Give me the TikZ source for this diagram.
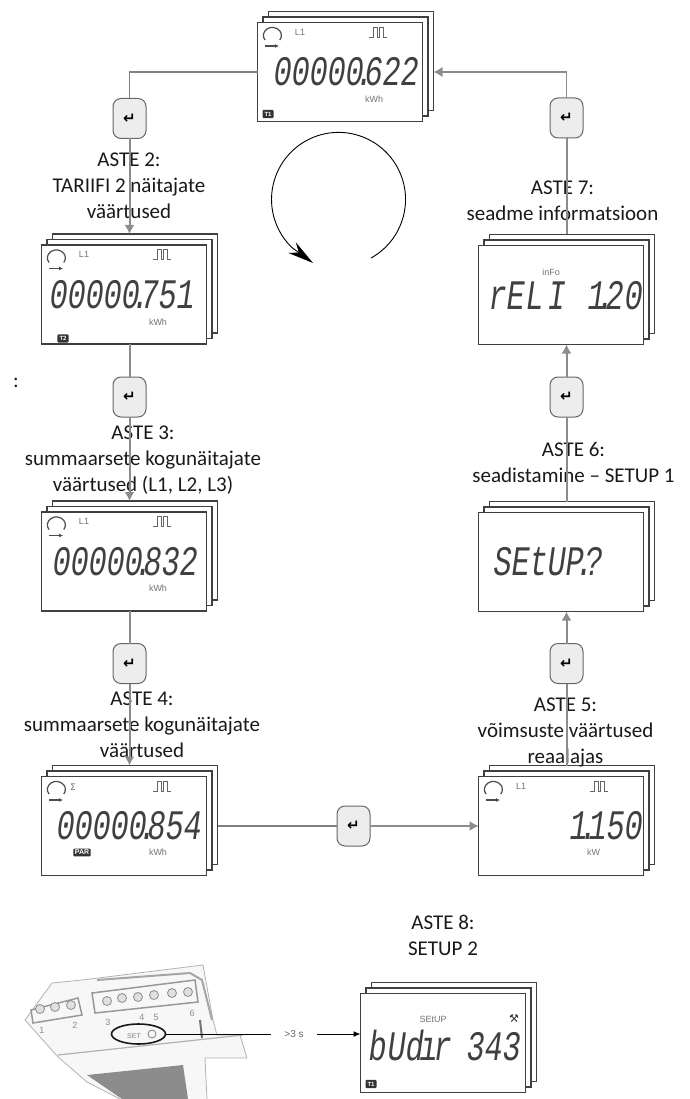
\documentclass[tikz,border=0pt]{standalone}
\usepackage{fontspec}
\setmainfont{Carlito}
\setsansfont{Liberation Sans}
\newfontfamily\lcdfont{Liberation Mono}[FakeSlant=0.14,FakeStretch=0.72]
\newfontfamily\symfont{DejaVu Sans}
\usetikzlibrary{arrows.meta,positioning,shadows,shapes.geometric}
\newcommand{\lcdpt}{\kern-.21em.\kern-.21em}
\newcommand{\lcdhead}[2]{%
  \pic at ([shift={(-68,37)}]#1.center) {cycleicon};
  \node[lcdsmall] (#1ph) at ([shift={(-40,40)}]#1.center) {#2};
  \pic at ([shift={(38,40)}]#1.center) {pulse};
}
\begin{document}
\begin{tikzpicture}[
  x=1pt, y=1pt,
  lcd/.style={draw=black!75, line width=1.2pt, fill=white, minimum width=165pt, minimum height=99pt, inner sep=0pt, outer sep=0pt,
    double copy shadow={shadow xshift=5.5pt, shadow yshift=5.5pt}},
  btn/.style={draw=black!60, line width=1pt, fill=black!7, rounded corners=8pt, minimum width=33pt, minimum height=40pt, inner sep=0pt, outer sep=0pt, font=\symfont\bfseries\fontsize{15}{15}\selectfont},
  lab/.style={align=center, inner sep=0pt, outer sep=0pt, font=\fontsize{21}{26}\selectfont, text=black!90},
  lcdnum/.style={inner sep=0pt, text=black!75, font=\lcdfont\fontsize{42}{42}\selectfont},
  lcdsmall/.style={inner sep=0pt, text=black!55, font=\sffamily\fontsize{9}{9}\selectfont},
  badge/.style={fill=black!80, rounded corners=1pt, inner sep=2pt, text=white, font=\sffamily\bfseries\fontsize{6}{6}\selectfont},
  conn/.style={draw=black!45, line width=2pt, -{Latex[length=9pt,width=10pt]}},
  hline/.style={draw=black!50, line width=1.2pt},
  cycleicon/.pic={
    \draw[black!70, line width=1.2pt] (-7,-5) arc[start angle=215, end angle=-35, x radius=9, y radius=8];
    \draw[black!70, line width=1.2pt, -{Latex[length=4pt,width=4pt]}] (-7,-11) -- (7,-11);
  },
  pulse/.pic={
    \draw[black!60, line width=.9pt] (-9,-5) -- (-5,-5) -- (-5,5) -- (-1,5) -- (-1,-5) -- (1,-5) -- (1,5) -- (5,5) -- (5,-5) -- (9,-5);
  }
]
\useasboundingbox (0,0) rectangle (689,-1099);
\node[lcd] (d1) at (340,-72) {};
\node[lcd] (d2) at (124,-294.5) {};
\node[lcd, below=168pt of d2] (d3) {};
\node[lcd, below=165.5pt of d3] (d4) {};
\node[lcd, right=272pt of d4] (d5) {};
\node[lcd, above=165pt of d5] (d6) {};
\node[lcd, above=168pt of d6] (d7) {};
\node[lcd, below right=118pt and 154pt of d4] (d8) {};

\node[btn, above=106.5pt of d2, xshift=5.5pt] (btn1) {↵};
\node[btn, below=33pt of d2, xshift=5.5pt] (btn2) {↵};
\node[btn, below=32.5pt of d3, xshift=5.5pt] (btn3) {↵};
\node[btn, right=130.5pt of d4] (btn4) {↵};
\node[btn, above=93pt of d5, xshift=5.5pt] (btn5) {↵};
\node[btn, above=95.5pt of d6, xshift=5.5pt] (btn6) {↵};
\node[btn, above=107.5pt of d7, xshift=5.5pt] (btn7) {↵};

\node[lab, above=26pt of d2, xshift=5pt] (lab2) {ASTE 2:\\TARIIFI 2 näitajate\\väärtused};
\node[lab, above=17.5pt of d3, xshift=19pt] (lab3) {ASTE 3:\\summaarsete kogunäitajate\\väärtused (L1, L2, L3)};
\node[lab, above=19pt of d4, xshift=18pt] (lab4) {ASTE 4:\\summaarsete kogunäitajate\\väärtused};
\node[lab, above=9pt of d5, xshift=4.5pt] (lab5) {ASTE 5:\\võimsuste väärtused\\reaalajas};
\node[lab, above=29.5pt of d6, xshift=12.5pt] (lab6) {ASTE 6:\\seadistamine – SETUP 1};
\node[lab, above=25pt of d7, xshift=1.5pt] (lab7) {ASTE 7:\\seadme informatsioon};
\node[lab, above=38pt of d8] (lab8) {ASTE 8:\\SETUP 2};
\node[lab] (colon) at (16,-383) {:};

\coordinate (d1in) at ([xshift=11pt]d1.east);
\coordinate (d2in) at ([shift={(5.5,11)}]d2.north);
\coordinate (d3in) at ([shift={(5.5,11)}]d3.north);
\coordinate (d4in) at ([shift={(5.5,11)}]d4.north);
\coordinate (d4out) at ([xshift=11pt]d4.east);
\coordinate (d5out) at ([shift={(5.5,11)}]d5.north);
\coordinate (d6in) at ([xshift=5.5pt]d6.south);
\coordinate (d6out) at ([shift={(5.5,11)}]d6.north);
\coordinate (d7in) at ([xshift=5.5pt]d7.south);
\coordinate (d7out) at ([shift={(5.5,11)}]d7.north);

\draw[hline] (d1.west) -| (btn1);
\draw[conn] (btn1) -- (d2in);
\draw[conn, -] (d2.south -| btn2) -- (btn2);
\draw[conn] (btn2) -- (d3in);
\draw[conn, -] (d3.south -| btn3) -- (btn3);
\draw[conn] (btn3) -- (d4in);
\draw[hline] (d4out) -- (btn4);
\draw[hline, -{Latex[length=9pt,width=10pt]}, black!45] (btn4) -- (d5);
\draw[conn, -] (d5out) -- (btn5);
\draw[conn] (btn5) -- (d6in);
\draw[conn, -] (d6out) -- (btn6);
\draw[conn] (btn6) -- (d7in);
\draw[conn, -] (d7out) -- (btn7);
\draw[hline, -{Latex[length=9pt,width=10pt]}, black!45] (btn7) |- (d1in);

\coordinate (cyclestart) at (371,-258);
\coordinate (cycleend) at (313,-263);
\draw[line width=.9pt, -{Stealth[length=26pt,width=13pt]}] (cyclestart) arc[start angle=-61, end angle=226, radius=67] -- (cycleend);

\lcdhead{d1}{L1}
\node[lcdnum] (d1num) at ([xshift=5pt]d1.center) {00000\lcdpt622};
\node[lcdsmall] (d1unit) at ([shift={(34,-27)}]d1.center) {kWh};
\node[badge] (d1tag) at ([shift={(-72,-42)}]d1.center) {T1};

\lcdhead{d2}{L1}
\node[lcdnum] (d2num) at ([xshift=-3pt]d2.center) {00000\lcdpt751};
\node[lcdsmall] (d2unit) at ([shift={(34,-28)}]d2.center) {kWh};
\node[badge] (d2tag) at ([shift={(-61,-44)}]d2.center) {T2};

\lcdhead{d3}{L1}
\node[lcdnum] (d3num) at (d3.center) {00000\lcdpt832};
\node[lcdsmall] (d3unit) at ([shift={(34,-27)}]d3.center) {kWh};

\lcdhead{d4}{}
\node[lcdsmall] (d4sum) at ([shift={(-51,39)}]d4.center) {\symfont Σ};
\node[lcdnum] (d4num) at ([xshift=4pt]d4.center) {00000\lcdpt854};
\node[badge, font=\sffamily\bfseries\fontsize{7}{7}\selectfont, inner sep=1.5pt] (d4tag) at ([shift={(-42,-26.5)}]d4.center) {PAR};
\node[lcdsmall] (d4unit) at ([shift={(34,-26.5)}]d4.center) {kWh};

\lcdhead{d5}{L1}
\node[lcdnum] (d5num) at ([xshift=44.5pt]d5.center) {1\lcdpt150};
\node[lcdsmall] (d5unit) at ([shift={(32.5,-26.5)}]d5.center) {kW};

\node[lcdnum] (d6num) at ([xshift=-14pt]d6.center) {SEtUP\lcdpt?};

\node[lcdsmall] (d7info) at ([shift={(-10,23)}]d7.center) {inFo};
\node[lcdnum] (d7num) at ([shift={(3.5,-1)}]d7.center) {rEL\kern4pt I\kern22pt 1\lcdpt20};

\node[lcdsmall] (d8title) at ([shift={(-10,24)}]d8.center) {SEtUP};
\node[lcdsmall, text=black!80, font=\symfont\fontsize{11}{11}\selectfont] (d8tool) at ([shift={(71,25)}]d8.center) {⚒};
\node[lcdnum] (d8num) at ([shift={(1,-2.5)}]d8.center) {bUd\kern-4pt ı\kern-4pt r\kern15pt 343};
\node[badge] (d8tag) at ([shift={(-72,-41)}]d8.center) {T1};

\fill[black!3] (25,-1020) -- (52,-983) -- (82,-980) -- (203,-965) -- (213,-1020) -- (217,-1035) -- (240,-1035) -- (247,-1058) -- (205,-1058) -- (207,-1099) -- (120,-1099) -- (87,-1082) -- (58,-1057) -- cycle;
\draw[black!30, line width=.8pt] (25,-1020) -- (52,-983) -- (82,-980) -- (203,-965) -- (213,-1020) -- (217,-1035) -- (240,-1035) -- (247,-1058) -- (205,-1058) -- (207,-1099);
\draw[black!30, line width=.8pt] (25,-1020) -- (58,-1057) -- (87,-1082) -- (120,-1099);
\fill[black!45] (87,-1075) -- (183,-1065) -- (188,-1099) -- (122,-1099) -- cycle;
\draw[black!30, line width=1.2pt] (58,-1055) -- (243,-1035);
\draw[black!35, line width=2pt] (97,-980) -- (190,-973) -- (202,-980) -- (212,-1020);
\draw[black!55, line width=2pt] (200,-1020) -- (202,-1038);
\draw[black!40, line width=1.5pt] (31,-1010) -- (78,-998) -- (82,-1015) -- (33,-1023) -- cycle;
\draw[black!40, line width=1.5pt] (92,-993) -- (195,-980) -- (198,-1002) -- (95,-1013) -- cycle;
\foreach \sx/\sy in {40/1009, 55/1007, 71/1005, 107/1001, 122/998, 138/997, 154/995, 172/993, 188/992}
  \draw[black!45, fill=black!12, line width=.8pt] (\sx,-\sy) circle (4.5);
\foreach \tx/\ty/\tt in {42/1030/1, 75/1025/2, 108/1022/3, 142/1017/4, 156/1017/5, 192/1013/6}
  \node[lcdsmall, text=black!45] (term\tt) at (\tx,-\ty) {\tt};
\node[lcdsmall, text=black!50, font=\sffamily\fontsize{7}{7}\selectfont] (setlabel) at (134,-1036) {SET};
\draw[black!50, line width=.8pt] (152,-1034) circle (4);
\node[draw=black!90, line width=1.6pt, ellipse, minimum width=54pt, minimum height=20pt, inner sep=0pt, outer sep=0pt] (setring) at (138.5,-1034) {};
\node[inner sep=1pt, text=black!60, font=\sffamily\fontsize{10}{10}\selectfont] (delay) at (294,-1034) {>3 s};
\draw[black, line width=1pt] (setring.east) -- ([xshift=-12pt]delay.west);
\draw[black, line width=1pt, -{Latex[length=7pt,width=6pt]}] ([xshift=12pt]delay.east) -- (delay.east -| d8.west);
\end{tikzpicture}
\end{document}
